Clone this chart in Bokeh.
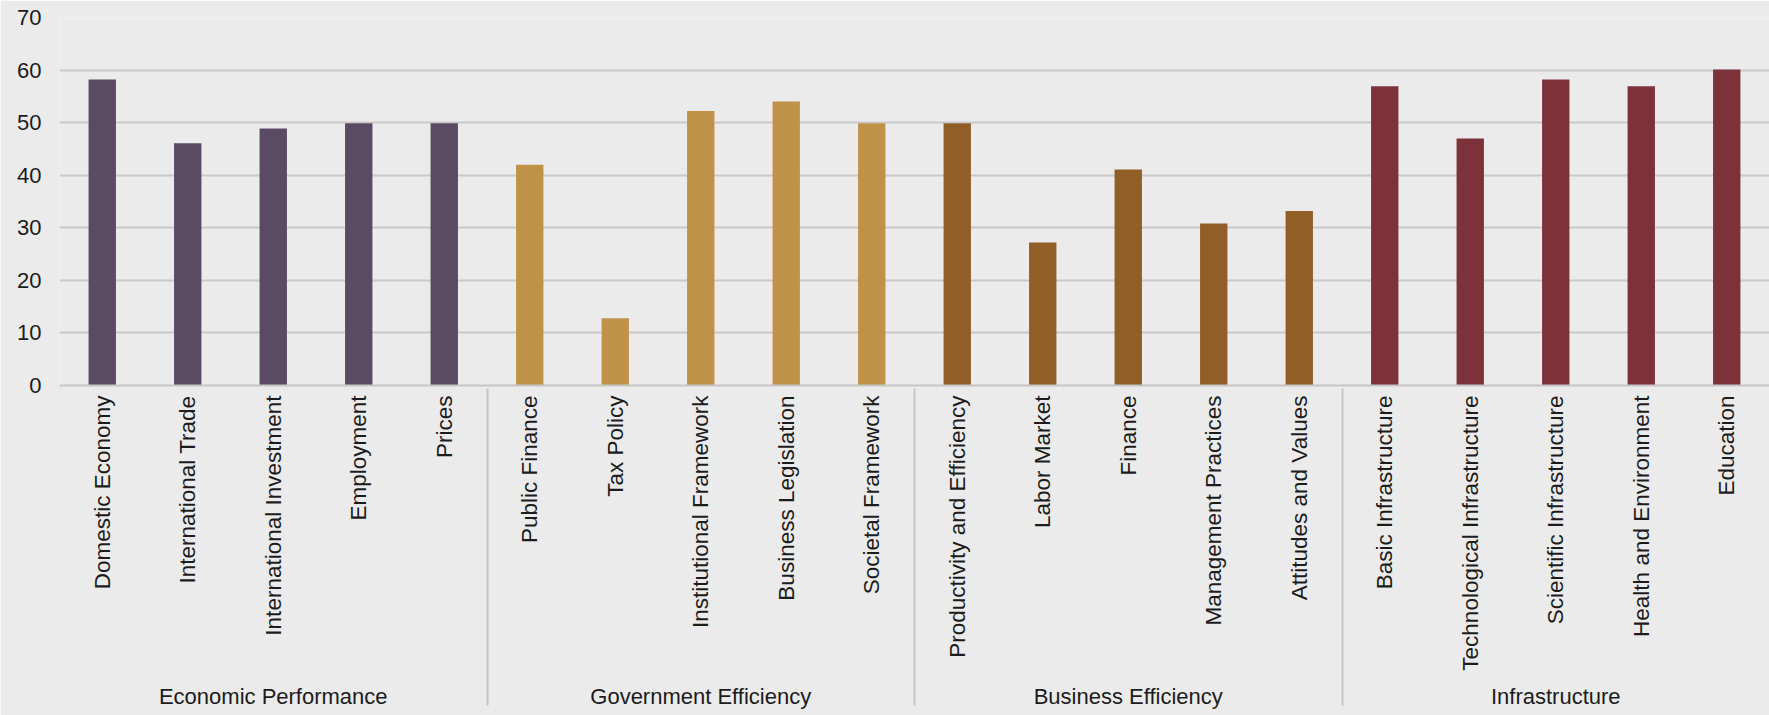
import math
from bokeh.plotting import figure
from bokeh.models import FactorRange, Range1d, ColumnDataSource
from bokeh.embed import file_html
from bokeh.resources import INLINE

groups = ["Economic Performance", "Government Efficiency", "Business Efficiency", "Infrastructure"]
sub_econ = ["Domestic Economy", "International Trade", "International Investment", "Employment", "Prices"]
sub_gov = ["Public Finance", "Tax Policy", "Institutional Framework", "Business Legislation", "Societal Framework"]
sub_bus = ["Productivity and Efficiency", "Labor Market", "Finance", "Management Practices", "Attitudes and Values"]
sub_infra = ["Basic Infrastructure", "Technological Infrastructure", "Scientific Infrastructure",
             "Health and Environment", "Education"]

values_econ = [58.2, 46.1, 48.9, 49.9, 49.9]
values_gov = [42.0, 12.8, 52.2, 54.0, 49.9]
values_bus = [49.9, 27.2, 41.1, 30.8, 33.2]
values_infra = [56.9, 47.0, 58.2, 56.9, 60.1]

group_colors = ["#5A4A64", "#C09248", "#915E28", "#7D323A"]
y_ticks = [0, 10, 20, 30, 40, 50, 60, 70]

subs = [sub_econ, sub_gov, sub_bus, sub_infra]
vals = [values_econ, values_gov, values_bus, values_infra]

xs, tops, cols = [], [], []
for g, s, v, c in zip(groups, subs, vals, group_colors):
    for name, val in zip(s, v):
        xs.append((g, name))
        tops.append(val)
        cols.append(c)

src = ColumnDataSource(dict(x=xs, top=tops, color=cols))

BG = "#EBEBEB"
TXT = "#1c1c1c"
FONT = "Liberation Sans"

p = figure(
    width=1769, height=715,
    x_range=FactorRange(*xs, range_padding=0, group_padding=0, factor_padding=0),
    y_range=Range1d(0, 70),
    output_backend="svg", toolbar_location=None,
    min_border_left=59, min_border_right=0, min_border_top=17, min_border_bottom=330,
)
p.background_fill_color = BG
p.border_fill_color = BG
p.outline_line_color = None

p.vbar(x="x", top="top", width=0.32, source=src, fill_color="color", line_color=None)

p.xgrid.grid_line_color = None
p.ygrid.grid_line_color = "#c9c9c9"
p.ygrid.grid_line_width = 2
p.yaxis.ticker = y_ticks

p.yaxis.axis_line_color = None
p.yaxis.major_tick_line_color = None
p.yaxis.minor_tick_line_color = None
p.yaxis.major_tick_out = 0
p.yaxis.major_tick_in = 0
p.yaxis.major_label_standoff = 18
p.yaxis.major_label_text_font = FONT
p.yaxis.major_label_text_font_size = "22px"
p.yaxis.major_label_text_color = TXT

xa = p.xaxis[0]
xa.axis_line_color = "#c6c6c6"
xa.axis_line_width = 2
xa.major_tick_line_color = None
xa.major_tick_out = 0
xa.major_tick_in = 0
xa.major_label_orientation = math.pi / 2
xa.major_label_standoff = 10
xa.major_label_text_font = FONT
xa.major_label_text_font_size = "22.5px"
xa.major_label_text_color = TXT
xa.group_text_font = FONT
xa.group_text_font_size = "22px"
xa.group_text_color = TXT
xa.group_text_font_style = "normal"
xa.separator_line_color = "#c6c6c6"
xa.separator_line_width = 2

open("out.html", "w").write(file_html(p, INLINE))
